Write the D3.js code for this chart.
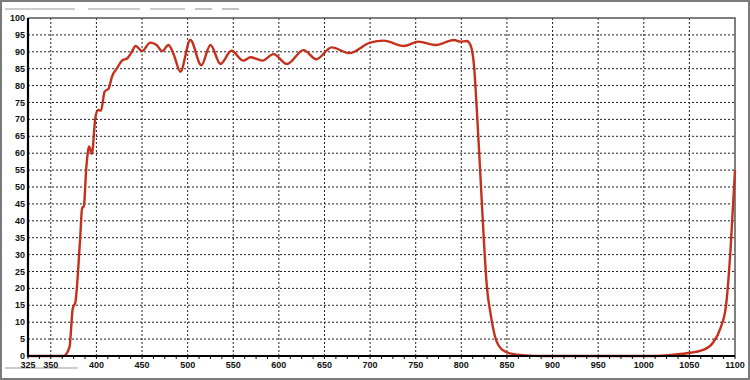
<!DOCTYPE html>
<html>
<head>
<meta charset="utf-8">
<script src="https://cdn.jsdelivr.net/npm/d3@7"></script>
<style>
  body { margin: 0; background: #fff; }
  svg { display: block; }
  .tick-label { font-family: "Liberation Sans", Arial, sans-serif; font-size: 9px; font-weight: bold; fill: #111; }
</style>
</head>
<body>
<div id="chart"></div>
<script>
// wavelength (nm) and transmission (%)
const wavelength = [325, 364, 370.5, 374, 377, 382, 384.5, 386, 389, 392, 395, 399, 402, 405, 409, 413.5, 417, 423, 428, 434,
  438, 443, 450, 459, 466, 472, 479, 485, 492, 503, 515, 525, 536, 548, 561, 569, 582, 594, 609, 627,
  641, 658, 677, 700, 715, 737, 753, 772, 792, 799, 806, 810, 814, 817, 821, 824.5, 828, 832, 837, 845,
  856, 870, 890, 1010, 1030, 1047, 1065, 1076, 1084, 1090, 1095, 1100];
const transmission = [0, 0, 2.6, 14, 16, 34, 44, 44, 56, 62, 59.8, 70.8, 72.8, 72.6, 78.2, 79.2, 82.6, 85.3, 87.4, 88.1,
  89.6, 91.7, 90.2, 92.7, 92, 90.2, 92, 89, 84.1, 93.5, 86, 92, 86.4, 90.3, 87.4, 88.4, 87.4, 89.3, 86.4, 90.5,
  87.8, 91.3, 89.6, 92.7, 93.3, 91.7, 93, 92, 93.5, 93, 93.2, 92, 85.6, 72.8, 53, 35.3, 20.5, 12.6, 5.7, 1.8,
  0.6, 0.2, 0, 0, 0.3, 0.8, 1.8, 4, 8.2, 14.6, 31, 55];

const xTicks = [325, 350, 400, 450, 500, 550, 600, 650, 700, 750, 800, 850, 900, 950, 1000, 1050, 1100];
const yTicks = d3.range(0, 101, 5);
const xMinor = d3.range(325, 1100.1, 12.5);

const width = 750, height = 380;
const margin = {top: 18, right: 15, bottom: 24, left: 28};
const plotW = width - margin.left - margin.right;
const plotH = height - margin.top - margin.bottom;

const x = d3.scaleLinear().domain([325, 1100]).range([0, plotW]);
const y = d3.scaleLinear().domain([0, 100]).range([plotH, 0]);

const svg = d3.select("#chart").append("svg")
    .attr("width", width)
    .attr("height", height);

// outer frame
svg.append("rect")
    .attr("x", 1).attr("y", 1)
    .attr("width", width - 2).attr("height", height - 2)
    .attr("fill", "#fff")
    .attr("stroke", "#7a7a7a")
    .attr("stroke-width", 2);

// faded title bar remnants at top and a short rule under the first labels
const titleBits = [[5, 75], [88, 140], [150, 185], [195, 212], [222, 239]];
svg.selectAll("line.title-bit")
    .data(titleBits)
    .enter().append("line")
    .attr("class", "title-bit")
    .attr("x1", d => d[0]).attr("x2", d => d[1])
    .attr("y1", 9).attr("y2", 9)
    .attr("stroke", "#9a9a9a")
    .attr("stroke-width", 1.2);

svg.append("line")
    .attr("x1", 5).attr("x2", 78)
    .attr("y1", 368).attr("y2", 368)
    .attr("stroke", "#9a9a9a")
    .attr("stroke-width", 1.2);

const g = svg.append("g")
    .attr("transform", "translate(" + margin.left + "," + margin.top + ")");

// dotted grid
g.append("g")
    .selectAll("line")
    .data(yTicks.filter(d => d > 0 && d < 100))
    .enter().append("line")
    .attr("x1", 0).attr("x2", plotW)
    .attr("y1", d => y(d)).attr("y2", d => y(d))
    .attr("stroke", "#222")
    .attr("stroke-width", 1)
    .attr("stroke-dasharray", "2,2");

g.append("g")
    .selectAll("line")
    .data(xTicks.filter(d => d > 325 && d < 1100))
    .enter().append("line")
    .attr("x1", d => x(d)).attr("x2", d => x(d))
    .attr("y1", 0).attr("y2", plotH)
    .attr("stroke", "#222")
    .attr("stroke-width", 1)
    .attr("stroke-dasharray", "2,2");

// top and right border
g.append("path")
    .attr("d", "M0,0H" + plotW + "V" + plotH)
    .attr("fill", "none")
    .attr("stroke", "#555")
    .attr("stroke-width", 1.5);

// transmission curve
const pts = wavelength.map((w, i) => [w, transmission[i]]);
const line = d3.line()
    .x(d => x(d[0]))
    .y(d => y(d[1]))
    .curve(d3.curveMonotoneX);

g.append("path")
    .datum(pts)
    .attr("d", line)
    .attr("fill", "none")
    .attr("stroke", "#c4301c")
    .attr("stroke-width", 2.4)
    .attr("stroke-linejoin", "round");

// axes
g.append("line")
    .attr("x1", 0).attr("x2", 0)
    .attr("y1", 0).attr("y2", plotH + 1)
    .attr("stroke", "#000").attr("stroke-width", 2.2);
g.append("line")
    .attr("x1", -1).attr("x2", plotW)
    .attr("y1", plotH).attr("y2", plotH)
    .attr("stroke", "#000").attr("stroke-width", 2.2);

g.append("g")
    .selectAll("line")
    .data(xMinor)
    .enter().append("line")
    .attr("x1", d => x(d)).attr("x2", d => x(d))
    .attr("y1", plotH).attr("y2", plotH + 3)
    .attr("stroke", "#000").attr("stroke-width", 1);

// tick labels
g.append("g")
    .selectAll("text")
    .data(yTicks)
    .enter().append("text")
    .attr("class", "tick-label")
    .attr("x", -3)
    .attr("y", d => y(d) + 3)
    .attr("text-anchor", "end")
    .text(d => d);

g.append("g")
    .selectAll("text")
    .data(xTicks)
    .enter().append("text")
    .attr("class", "tick-label")
    .attr("x", d => x(d))
    .attr("y", plotH + 12)
    .attr("text-anchor", "middle")
    .text(d => d);
</script>
</body>
</html>
